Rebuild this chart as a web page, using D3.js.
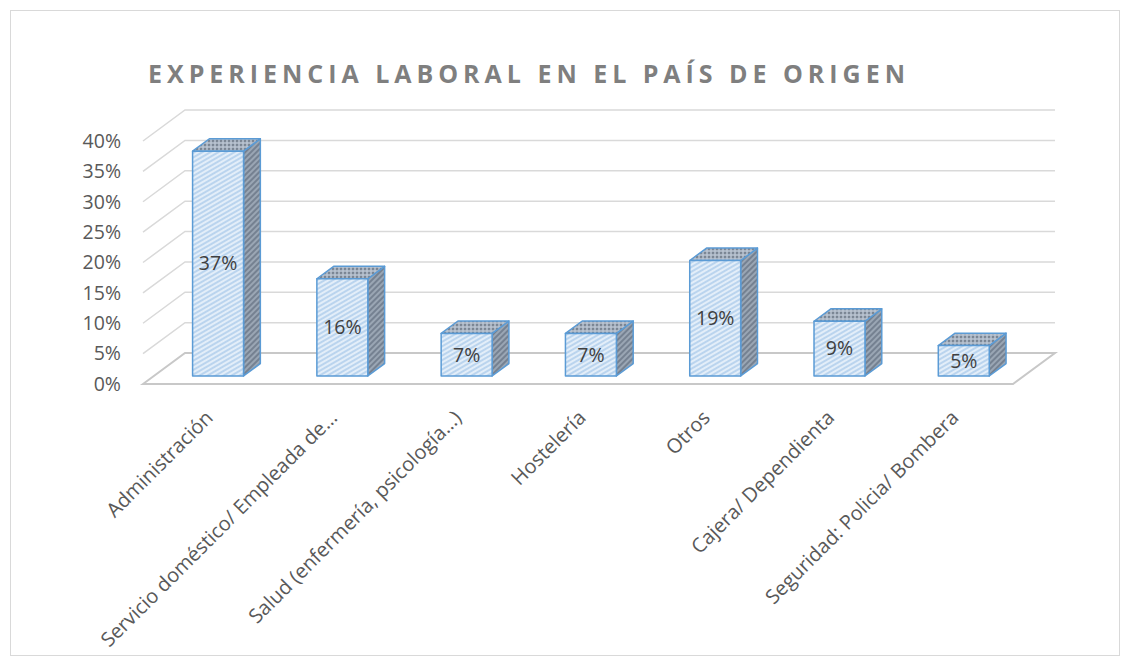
<!DOCTYPE html>
<html>
<head>
<meta charset="utf-8">
<script src="https://cdn.jsdelivr.net/npm/d3@7"></script>
<style>
  body { margin: 0; background: #fff; }
  svg { display: block; font-family: 'Open Sans', sans-serif; }
</style>
</head>
<body>
<svg id="chart" width="1130" height="666"></svg>
<script>
// categories and values
var categories = [
    'Administración',
    'Servicio doméstico/ Empleada de…',
    'Salud (enfermería, psicología…)',
    'Hostelería',
    'Otros',
    'Cajera/ Dependienta',
    'Seguridad: Policia/ Bombera'
];
var values = [0.37, 0.16, 0.07, 0.07, 0.19, 0.09, 0.05];
var yTicks = [0, 0.05, 0.10, 0.15, 0.20, 0.25, 0.30, 0.35, 0.40];
var title = 'EXPERIENCIA LABORAL EN EL PAÍS DE ORIGEN';

var svg = d3.select('svg#chart');

// depth of the 3d box (screen offset for the back wall)
var depthX = 42, depthY = -31;

var x = d3.scaleBand().domain(categories).range([143, 1013]);
var y = d3.scaleLinear().domain([0, 0.40]).range([384, 141]);
var pct = d3.format('.0%');

function proj(px, v, d) {
    return [px + depthX * d, y(v) + depthY * d];
}

// patterns for the bar faces
var defs = svg.append('defs');

var pFront = defs.append('pattern')
    .attr('id', 'hatchFront')
    .attr('patternUnits', 'userSpaceOnUse')
    .attr('width', 4).attr('height', 4)
    .attr('patternTransform', 'rotate(-30)');
pFront.append('rect').attr('width', 4).attr('height', 4).attr('fill', '#e3eef9');
pFront.append('line').attr('x1', 0).attr('y1', 1).attr('x2', 4).attr('y2', 1)
    .attr('stroke', '#a8c9ea').attr('stroke-width', 1.4);

var pSide = defs.append('pattern')
    .attr('id', 'hatchSide')
    .attr('patternUnits', 'userSpaceOnUse')
    .attr('width', 4).attr('height', 4)
    .attr('patternTransform', 'rotate(-45)');
pSide.append('rect').attr('width', 4).attr('height', 4).attr('fill', '#9aa6b4');
pSide.append('line').attr('x1', 0).attr('y1', 1).attr('x2', 4).attr('y2', 1)
    .attr('stroke', '#6c7888').attr('stroke-width', 1.6);

var pTop = defs.append('pattern')
    .attr('id', 'dotsTop')
    .attr('patternUnits', 'userSpaceOnUse')
    .attr('width', 4).attr('height', 4);
pTop.append('rect').attr('width', 4).attr('height', 4).attr('fill', '#a9b4c2');
pTop.append('circle').attr('cx', 1).attr('cy', 1).attr('r', 1.1).attr('fill', '#76818f');
pTop.append('circle').attr('cx', 3).attr('cy', 3).attr('r', 0.8).attr('fill', '#c9d2dd');

// outer chart border
svg.append('rect')
    .attr('x', 10.5).attr('y', 10.5)
    .attr('width', 1109).attr('height', 645)
    .attr('fill', '#fff')
    .attr('stroke', '#d9d9d9');

// title
svg.append('text')
    .attr('x', 148).attr('y', 83)
    .attr('textLength', 757)
    .attr('lengthAdjust', 'spacing')
    .attr('font-size', 25)
    .attr('font-weight', 'bold')
    .attr('fill', '#7f7f7f')
    .text(title);

var x0 = x.range()[0], x1 = x.range()[1];

// back wall gridlines and left wall diagonals
var grid = svg.append('g').attr('class', 'grid');
yTicks.filter(function (t) { return t > 0; }).forEach(function (t) {
    var a = proj(x0, t, 0), b = proj(x0, t, 1), c = proj(x1, t, 1);
    grid.append('path')
        .attr('d', d3.line()([a, b, c]))
        .attr('fill', 'none')
        .attr('stroke', '#d9d9d9')
        .attr('stroke-width', 1.5);
});

// floor
var floor = [proj(x0, 0, 0), proj(x0, 0, 1), proj(x1, 0, 1), proj(x1, 0, 0)];
svg.append('path')
    .attr('d', d3.line()(floor) + 'Z')
    .attr('fill', 'none')
    .attr('stroke', '#c8c8c8')
    .attr('stroke-width', 2);

// y axis labels
svg.append('g').selectAll('text')
    .data(yTicks)
    .join('text')
    .attr('x', 121)
    .attr('y', function (d) { return y(d); })
    .attr('dy', '0.35em')
    .attr('text-anchor', 'end')
    .attr('font-size', 19.5)
    .attr('fill', '#595959')
    .text(pct);

// bars
var d0 = 0.26, d1 = 0.66;
var bw = x.bandwidth() * 0.41;

var bars = svg.append('g').attr('class', 'bars')
    .selectAll('g')
    .data(categories.map(function (c, i) { return { cat: c, v: values[i] }; }))
    .join('g');

bars.each(function (d) {
    var g = d3.select(this);
    var left = x(d.cat) + x.bandwidth() / 2 - bw / 2 + 2;
    var right = left + bw;
    var ftl = proj(left, d.v, d0), ftr = proj(right, d.v, d0);
    var fbl = proj(left, 0, d0), fbr = proj(right, 0, d0);
    var btl = proj(left, d.v, d1), btr = proj(right, d.v, d1);
    var bbr = proj(right, 0, d1);

    g.append('path')
        .attr('d', d3.line()([ftr, btr, bbr, fbr]) + 'Z')
        .attr('fill', 'url(#hatchSide)')
        .attr('stroke', '#5b9bd5').attr('stroke-width', 1.5)
        .attr('stroke-linejoin', 'round');
    g.append('path')
        .attr('d', d3.line()([ftl, btl, btr, ftr]) + 'Z')
        .attr('fill', 'url(#dotsTop)')
        .attr('stroke', '#5b9bd5').attr('stroke-width', 1.5)
        .attr('stroke-linejoin', 'round');
    g.append('path')
        .attr('d', d3.line()([ftl, ftr, fbr, fbl]) + 'Z')
        .attr('fill', 'url(#hatchFront)')
        .attr('stroke', '#5b9bd5').attr('stroke-width', 1.5)
        .attr('stroke-linejoin', 'round');

    g.append('text')
        .attr('x', (ftl[0] + ftr[0]) / 2)
        .attr('y', (ftl[1] + fbl[1]) / 2)
        .attr('dy', '0.35em')
        .attr('text-anchor', 'middle')
        .attr('font-size', 19.5)
        .attr('fill', '#404040')
        .text(pct(d.v));
});

// category labels, rotated
svg.append('g').selectAll('text')
    .data(categories)
    .join('text')
    .attr('transform', function (d) {
        return 'translate(' + (x(d) + x.bandwidth() / 2 + 9) + ',419) rotate(-45)';
    })
    .attr('text-anchor', 'end')
    .attr('font-size', 20)
    .attr('fill', '#595959')
    .text(function (d) { return d; });
</script>
</body>
</html>
